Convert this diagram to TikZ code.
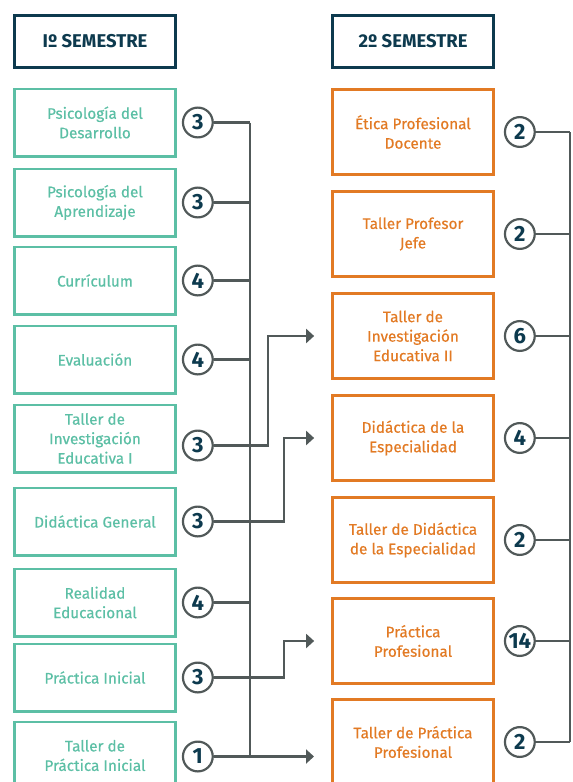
\documentclass[tikz,border=0pt]{standalone}
\usepackage{fontspec}
\setmainfont{Fira Sans}
\newfontfamily\boxfont{Fira Sans}[FakeBold=0.5]
\usetikzlibrary{positioning,arrows.meta}
\definecolor{navy}{HTML}{0D3A4E}
\definecolor{mint}{HTML}{5CBFA5}
\definecolor{carrot}{HTML}{E27A24}
\definecolor{slate}{HTML}{515959}

\begin{document}
\begin{tikzpicture}[x=1pt,y=-1pt,
    head/.style={draw=navy,line width=3pt,minimum width=161pt,minimum height=52pt,
       text=navy,font=\bfseries\fontsize{18.5}{20}\selectfont},
    first/.style={draw=mint,line width=2.7pt,minimum width=161pt,minimum height=67.3pt,
       align=center,text=mint,font=\boxfont\fontsize{15.3}{19.5}\selectfont},
    second/.style={draw=carrot,line width=2.7pt,minimum width=161pt,minimum height=85.3pt,
       align=center,text=carrot,font=\boxfont\fontsize{15.3}{19.5}\selectfont},
    credit/.style={circle,draw=slate,line width=2.2pt,minimum size=29.8pt,inner sep=0pt,
       text=navy,font=\bfseries\fontsize{22}{22}\selectfont},
    link/.style={draw=slate,line width=2.5pt},
    go/.style={link,-{Triangle[length=8pt,width=14pt]}}]
  \useasboundingbox (0,0) rectangle (573,782);
  \clip (0,0) rectangle (573,782);
  \node[head] (hl) at (95,41.5) {Iº SEMESTRE};
  \node[head] (hr) at (413,41.5) {2º SEMESTRE};
  \node[first] (l1) at (95,122.5) {Psicología del\\Desarrollo};
  \node[first, below=10pt of l1] (l2) {Psicología del\\Aprendizaje};
  \node[first, below=8pt of l2] (l3) {Currículum};
  \node[first, below=9pt of l3] (l4) {Evaluación};
  \node[first, below=9pt of l4] (l5) {Taller de\\Investigación\\Educativa I};
  \node[first, below=13pt of l5] (l6) {Didáctica General};
  \node[first, below=11pt of l6] (l7) {Realidad\\Educacional};
  \node[first, below=5pt of l7] (l8) {Práctica Inicial};
  \node[first, below=8pt of l8] (l9) {Taller de\\Práctica Inicial};
  \node[second] (r1) at (413,132) {Ética Profesional\\Docente};
  \node[second, below=14pt of r1] (r2) {Taller Profesor\\Jefe};
  \node[second, below=14pt of r2] (r3) {Taller de\\Investigación\\Educativa II};
  \node[second, below=14pt of r3] (r4) {Didáctica de la\\Especialidad};
  \node[second, below=14pt of r4] (r5) {Taller de Didáctica\\de la Especialidad};
  \node[second, below=13pt of r5] (r6) {Práctica\\Profesional};
  \node[second, below=13pt of r6] (r7) {Taller de Práctica\\Profesional};
  \node[credit, right=5pt of l1] (n1) {3};
  \node[credit, right=5pt of l2] (n2) {3};
  \node[credit, right=5pt of l3] (n3) {4};
  \node[credit, right=5pt of l4] (n4) {4};
  \node[credit, right=5pt of l5, yshift=-7pt] (n5) {3};
  \node[credit, right=5pt of l6] (n6) {3};
  \node[credit, right=5pt of l7] (n7) {4};
  \node[credit, right=5pt of l8] (n8) {3};
  \node[credit, right=5pt of l9, yshift=-1pt] (n9) {1};
  \node[credit, right=9pt of r1] (m1) {2};
  \node[credit, right=9pt of r2] (m2) {2};
  \node[credit, right=9pt of r3] (m3) {6};
  \node[credit, right=9pt of r4] (m4) {4};
  \node[credit, right=9pt of r5] (m5) {2};
  \node[credit, right=9pt of r6] (m6) {14};
  \node[credit, right=9pt of r7] (m7) {2};
  \coordinate (lx) at (250,0);
  \coordinate (rx) at (570,0);
  \coordinate (tip) at (314,0);
  \draw[link] (n1.east) -- (n1.east -| lx);
  \draw[link] (n2.east) -- (n2.east -| lx);
  \draw[link] (n3.east) -- (n3.east -| lx);
  \draw[link] (n4.east) -- (n4.east -| lx);
  \draw[link] (n7.east) -- (n7.east -| lx);
  \draw[link] (n1.east -| lx) -- (n9.east -| lx);
  \draw[go] (n5.east) -| ([xshift=-63pt]r3.west) -- ([xshift=-17pt]r3.west);
  \draw[go] (n6.east) -| ([xshift=-47pt]r4.west) -- ([xshift=-17pt]r4.west);
  \draw[go] (n8.east) -| ([xshift=-47pt]r6.west) -- ([xshift=-17pt]r6.west);
  \draw[go] (n9.east) -- (n9.east -| tip);
  \draw[link] (m1.east) -- (m1.east -| rx);
  \draw[link] (m2.east) -- (m2.east -| rx);
  \draw[link] (m3.east) -- (m3.east -| rx);
  \draw[link] (m4.east) -- (m4.east -| rx);
  \draw[link] (m5.east) -- (m5.east -| rx);
  \draw[link] (m6.east) -- (m6.east -| rx);
  \draw[link] (m7.east) -- (m7.east -| rx);
  \draw[link] (m1.east -| rx) -- (m7.east -| rx);
\end{tikzpicture}
\end{document}
